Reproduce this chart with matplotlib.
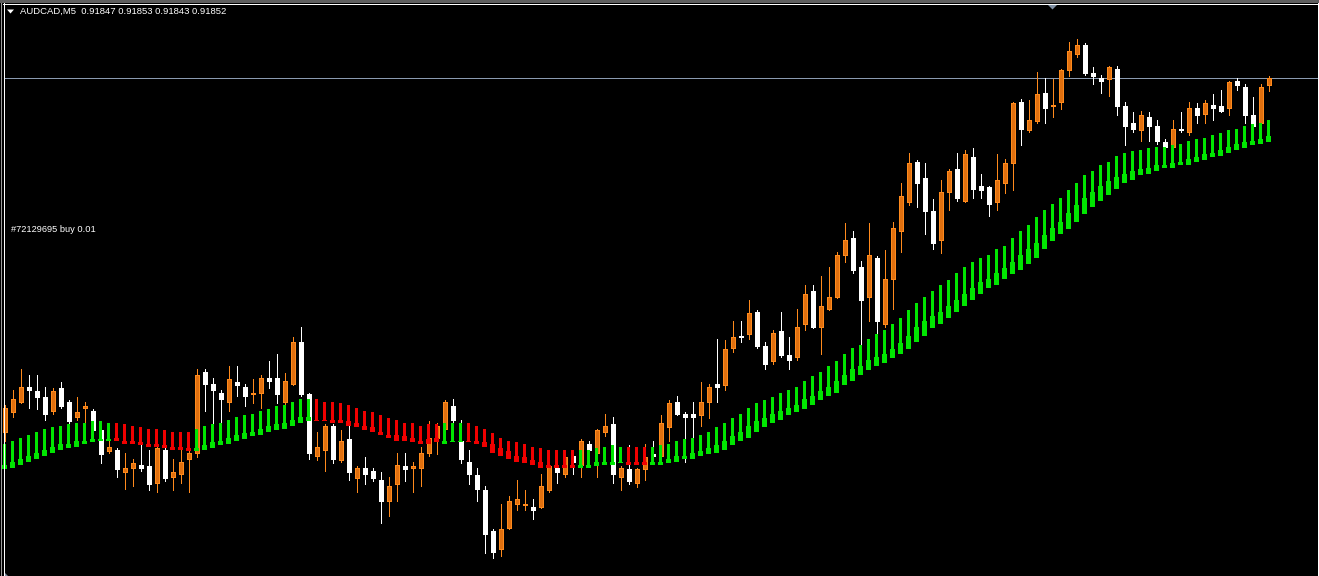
import numpy as np
import matplotlib
matplotlib.use("Agg")
import matplotlib.pyplot as plt
from matplotlib.patches import Polygon, Rectangle

# ---------------- data (AUDCAD, M5) ----------------
symbol = "AUDCAD,M5"
order_label = "#72129695 buy 0.01"

open_ = [0.91616, 0.91629, 0.91636, 0.91646, 0.91643, 0.91639, 0.91630, 0.91645, 0.91636, 0.91626,
         0.91632, 0.91630, 0.91617, 0.91603, 0.91604, 0.91589, 0.91592, 0.91594, 0.91593, 0.91582,
         0.91604, 0.91586, 0.91588, 0.91598, 0.91602, 0.91656, 0.91648, 0.91642, 0.91636, 0.91649,
         0.91646, 0.91641, 0.91642, 0.91652, 0.91652, 0.91636, 0.91648, 0.91676, 0.91641, 0.91600,
         0.91604, 0.91620, 0.91597, 0.91611, 0.91585, 0.91592, 0.91590, 0.91584, 0.91570, 0.91581,
         0.91593, 0.91592, 0.91592, 0.91602, 0.91612, 0.91618, 0.91633, 0.91610, 0.91596, 0.91587,
         0.91577, 0.91550, 0.91538, 0.91552, 0.91568, 0.91567, 0.91566, 0.91566, 0.91577, 0.91592,
         0.91588, 0.91600, 0.91594, 0.91608, 0.91602, 0.91616, 0.91621, 0.91586, 0.91591, 0.91582,
         0.91591, 0.91601, 0.91600, 0.91619, 0.91636, 0.91628, 0.91628, 0.91627, 0.91636, 0.91648,
         0.91647, 0.91672, 0.91680, 0.91681, 0.91696, 0.91673, 0.91663, 0.91683, 0.91667, 0.91666,
         0.91688, 0.91710, 0.91686, 0.91698, 0.91706, 0.91734, 0.91745, 0.91726, 0.91706, 0.91732,
         0.91688, 0.91718, 0.91750, 0.91769, 0.91796, 0.91785, 0.91763, 0.91744, 0.91776, 0.91791,
         0.91770, 0.91799, 0.91780, 0.91779, 0.91769, 0.91782, 0.91795, 0.91836, 0.91817, 0.91823,
         0.91842, 0.91833, 0.91836, 0.91857, 0.91868, 0.91874, 0.91855, 0.91852, 0.91851, 0.91858,
         0.91833, 0.91822, 0.91817, 0.91826, 0.91820, 0.91809, 0.91806, 0.91818, 0.91816, 0.91832,
         0.91828, 0.91834, 0.91833, 0.91832, 0.91850, 0.91846, 0.91827, 0.91822, 0.91847]
high = [0.91634, 0.91644, 0.91658, 0.91654, 0.91654, 0.91646, 0.91645, 0.91649, 0.91637, 0.91639,
        0.91636, 0.91631, 0.91618, 0.91610, 0.91605, 0.91602, 0.91598, 0.91608, 0.91604, 0.91606,
        0.91605, 0.91598, 0.91605, 0.91605, 0.91658, 0.91658, 0.91652, 0.91644, 0.91660, 0.91660,
        0.91648, 0.91651, 0.91654, 0.91663, 0.91668, 0.91655, 0.91679, 0.91686, 0.91642, 0.91616,
        0.91621, 0.91621, 0.91617, 0.91620, 0.91593, 0.91599, 0.91592, 0.91589, 0.91586, 0.91602,
        0.91602, 0.91596, 0.91606, 0.91623, 0.91622, 0.91637, 0.91638, 0.91624, 0.91604, 0.91592,
        0.91580, 0.91551, 0.91568, 0.91573, 0.91584, 0.91577, 0.91571, 0.91588, 0.91594, 0.91596,
        0.91600, 0.91601, 0.91611, 0.91610, 0.91618, 0.91628, 0.91626, 0.91593, 0.91607, 0.91592,
        0.91608, 0.91610, 0.91627, 0.91637, 0.91640, 0.91629, 0.91636, 0.91649, 0.91648, 0.91678,
        0.91677, 0.91690, 0.91690, 0.91704, 0.91697, 0.91676, 0.91684, 0.91696, 0.91679, 0.91698,
        0.91714, 0.91714, 0.91720, 0.91726, 0.91736, 0.91755, 0.91750, 0.91730, 0.91755, 0.91733,
        0.91737, 0.91756, 0.91782, 0.91802, 0.91797, 0.91795, 0.91771, 0.91784, 0.91791, 0.91802,
        0.91804, 0.91805, 0.91788, 0.91780, 0.91801, 0.91798, 0.91836, 0.91838, 0.91837, 0.91856,
        0.91852, 0.91851, 0.91858, 0.91876, 0.91878, 0.91875, 0.91859, 0.91854, 0.91860, 0.91860,
        0.91836, 0.91829, 0.91830, 0.91829, 0.91824, 0.91811, 0.91824, 0.91829, 0.91836, 0.91835,
        0.91837, 0.91841, 0.91844, 0.91850, 0.91852, 0.91848, 0.91839, 0.91848, 0.91853]
low = [0.91610, 0.91626, 0.91635, 0.91632, 0.91631, 0.91624, 0.91628, 0.91632, 0.91621, 0.91624,
       0.91622, 0.91616, 0.91595, 0.91602, 0.91586, 0.91578, 0.91580, 0.91590, 0.91577, 0.91576,
       0.91583, 0.91577, 0.91582, 0.91576, 0.91599, 0.91630, 0.91622, 0.91622, 0.91630, 0.91640,
       0.91633, 0.91635, 0.91632, 0.91645, 0.91635, 0.91634, 0.91647, 0.91640, 0.91598, 0.91597,
       0.91590, 0.91595, 0.91596, 0.91584, 0.91576, 0.91581, 0.91583, 0.91555, 0.91560, 0.91570,
       0.91583, 0.91576, 0.91580, 0.91600, 0.91601, 0.91616, 0.91622, 0.91595, 0.91581, 0.91570,
       0.91535, 0.91532, 0.91533, 0.91551, 0.91564, 0.91564, 0.91558, 0.91565, 0.91576, 0.91582,
       0.91586, 0.91588, 0.91586, 0.91603, 0.91586, 0.91613, 0.91582, 0.91577, 0.91581, 0.91579,
       0.91584, 0.91599, 0.91599, 0.91610, 0.91627, 0.91596, 0.91612, 0.91620, 0.91625, 0.91636,
       0.91644, 0.91669, 0.91676, 0.91678, 0.91672, 0.91658, 0.91661, 0.91666, 0.91658, 0.91664,
       0.91684, 0.91685, 0.91668, 0.91697, 0.91705, 0.91729, 0.91722, 0.91674, 0.91690, 0.91682,
       0.91686, 0.91698, 0.91736, 0.91767, 0.91766, 0.91748, 0.91738, 0.91735, 0.91764, 0.91770,
       0.91769, 0.91772, 0.91772, 0.91760, 0.91764, 0.91775, 0.91777, 0.91807, 0.91816, 0.91822,
       0.91822, 0.91826, 0.91831, 0.91853, 0.91866, 0.91854, 0.91848, 0.91842, 0.91840, 0.91827,
       0.91807, 0.91816, 0.91810, 0.91810, 0.91808, 0.91805, 0.91805, 0.91816, 0.91814, 0.91822,
       0.91822, 0.91824, 0.91829, 0.91827, 0.91844, 0.91822, 0.91819, 0.91821, 0.91843]
close = [0.91632, 0.91638, 0.91646, 0.91644, 0.91639, 0.91628, 0.91643, 0.91633, 0.91623, 0.91629,
         0.91633, 0.91617, 0.91601, 0.91606, 0.91591, 0.91592, 0.91595, 0.91592, 0.91581, 0.91605,
         0.91585, 0.91589, 0.91596, 0.91602, 0.91654, 0.91648, 0.91644, 0.91638, 0.91651, 0.91647,
         0.91640, 0.91642, 0.91652, 0.91650, 0.91641, 0.91650, 0.91676, 0.91641, 0.91602, 0.91606,
         0.91620, 0.91598, 0.91610, 0.91589, 0.91592, 0.91588, 0.91585, 0.91570, 0.91580, 0.91594,
         0.91591, 0.91593, 0.91602, 0.91612, 0.91620, 0.91636, 0.91624, 0.91598, 0.91588, 0.91578,
         0.91548, 0.91536, 0.91551, 0.91570, 0.91571, 0.91568, 0.91564, 0.91580, 0.91593, 0.91589,
         0.91599, 0.91596, 0.91610, 0.91604, 0.91617, 0.91620, 0.91588, 0.91592, 0.91583, 0.91591,
         0.91599, 0.91600, 0.91622, 0.91635, 0.91628, 0.91626, 0.91626, 0.91636, 0.91646, 0.91646,
         0.91671, 0.91679, 0.91679, 0.91695, 0.91673, 0.91661, 0.91682, 0.91667, 0.91664, 0.91686,
         0.91708, 0.91686, 0.91700, 0.91706, 0.91734, 0.91744, 0.91724, 0.91704, 0.91734, 0.91690,
         0.91718, 0.91752, 0.91773, 0.91795, 0.91782, 0.91763, 0.91742, 0.91776, 0.91790, 0.91772,
         0.91801, 0.91778, 0.91777, 0.91768, 0.91784, 0.91795, 0.91835, 0.91818, 0.91824, 0.91841,
         0.91832, 0.91834, 0.91857, 0.91870, 0.91874, 0.91855, 0.91853, 0.91850, 0.91859, 0.91833,
         0.91820, 0.91818, 0.91827, 0.91820, 0.91810, 0.91806, 0.91818, 0.91817, 0.91832, 0.91827,
         0.91835, 0.91832, 0.91830, 0.91849, 0.91847, 0.91827, 0.91820, 0.91846, 0.91852]

# trend-indicator histogram: top of thin bar, top of block, bottom of block
ind_top = [0.91608, 0.91610, 0.91612, 0.91614, 0.91616, 0.91618, 0.91619, 0.91620, 0.91621, 0.91622,
           0.91622, 0.91623, 0.91623, 0.91622, 0.91622, 0.91621, 0.91620, 0.91619, 0.91618, 0.91618,
           0.91617, 0.91616, 0.91616, 0.91616, 0.91618, 0.91620, 0.91621, 0.91622, 0.91624, 0.91626,
           0.91627, 0.91628, 0.91630, 0.91631, 0.91633, 0.91634, 0.91636, 0.91638, 0.91638, 0.91638,
           0.91636, 0.91636, 0.91635, 0.91634, 0.91632, 0.91630, 0.91629, 0.91627, 0.91625, 0.91624,
           0.91622, 0.91622, 0.91620, 0.91621, 0.91621, 0.91622, 0.91622, 0.91622, 0.91622, 0.91620,
           0.91618, 0.91615, 0.91612, 0.91610, 0.91609, 0.91608, 0.91606, 0.91605, 0.91604, 0.91604,
           0.91604, 0.91604, 0.91604, 0.91604, 0.91605, 0.91606, 0.91607, 0.91606, 0.91606, 0.91606,
           0.91606, 0.91606, 0.91607, 0.91608, 0.91610, 0.91611, 0.91612, 0.91614, 0.91616, 0.91619,
           0.91622, 0.91625, 0.91628, 0.91632, 0.91635, 0.91637, 0.91639, 0.91642, 0.91644, 0.91646,
           0.91650, 0.91653, 0.91656, 0.91660, 0.91663, 0.91668, 0.91672, 0.91674, 0.91678, 0.91681,
           0.91684, 0.91688, 0.91692, 0.91697, 0.91702, 0.91706, 0.91710, 0.91714, 0.91717, 0.91722,
           0.91726, 0.91729, 0.91732, 0.91734, 0.91738, 0.91740, 0.91745, 0.91750, 0.91754, 0.91759,
           0.91764, 0.91768, 0.91772, 0.91777, 0.91782, 0.91787, 0.91790, 0.91794, 0.91796, 0.91800,
           0.91802, 0.91803, 0.91804, 0.91805, 0.91806, 0.91806, 0.91807, 0.91808, 0.91810, 0.91811,
           0.91812, 0.91814, 0.91815, 0.91817, 0.91818, 0.91820, 0.91821, 0.91822, 0.91824]
ind_mid = [0.91594, 0.91596, 0.91598, 0.91600, 0.91602, 0.91604, 0.91606, 0.91608, 0.91608, 0.91610,
           0.91610, 0.91611, 0.91611, 0.91611, 0.91612, 0.91610, 0.91610, 0.91609, 0.91608, 0.91608,
           0.91607, 0.91606, 0.91606, 0.91605, 0.91605, 0.91607, 0.91609, 0.91610, 0.91612, 0.91614,
           0.91615, 0.91616, 0.91618, 0.91620, 0.91621, 0.91622, 0.91624, 0.91626, 0.91626, 0.91624,
           0.91624, 0.91624, 0.91624, 0.91623, 0.91622, 0.91620, 0.91619, 0.91616, 0.91614, 0.91614,
           0.91613, 0.91612, 0.91610, 0.91611, 0.91612, 0.91610, 0.91610, 0.91610, 0.91610, 0.91610,
           0.91609, 0.91608, 0.91605, 0.91603, 0.91600, 0.91599, 0.91597, 0.91596, 0.91594, 0.91594,
           0.91594, 0.91594, 0.91594, 0.91594, 0.91596, 0.91596, 0.91596, 0.91596, 0.91596, 0.91596,
           0.91596, 0.91596, 0.91596, 0.91598, 0.91600, 0.91600, 0.91602, 0.91603, 0.91605, 0.91607,
           0.91610, 0.91613, 0.91616, 0.91620, 0.91623, 0.91625, 0.91628, 0.91630, 0.91632, 0.91634,
           0.91638, 0.91640, 0.91643, 0.91646, 0.91650, 0.91654, 0.91658, 0.91660, 0.91664, 0.91666,
           0.91668, 0.91671, 0.91675, 0.91680, 0.91686, 0.91690, 0.91693, 0.91696, 0.91700, 0.91704,
           0.91708, 0.91712, 0.91716, 0.91718, 0.91722, 0.91725, 0.91729, 0.91734, 0.91738, 0.91742,
           0.91747, 0.91752, 0.91756, 0.91762, 0.91767, 0.91772, 0.91776, 0.91780, 0.91783, 0.91786,
           0.91788, 0.91790, 0.91791, 0.91792, 0.91794, 0.91794, 0.91795, 0.91796, 0.91798, 0.91799,
           0.91801, 0.91802, 0.91804, 0.91806, 0.91808, 0.91809, 0.91810, 0.91811, 0.91813]
ind_bot = [0.91591, 0.91592, 0.91594, 0.91596, 0.91598, 0.91600, 0.91602, 0.91604, 0.91605, 0.91606,
           0.91608, 0.91609, 0.91610, 0.91610, 0.91610, 0.91608, 0.91608, 0.91607, 0.91606, 0.91606,
           0.91605, 0.91604, 0.91604, 0.91603, 0.91603, 0.91604, 0.91605, 0.91607, 0.91608, 0.91610,
           0.91611, 0.91613, 0.91614, 0.91616, 0.91617, 0.91618, 0.91620, 0.91622, 0.91623, 0.91623,
           0.91623, 0.91622, 0.91622, 0.91620, 0.91619, 0.91617, 0.91616, 0.91614, 0.91612, 0.91610,
           0.91610, 0.91609, 0.91608, 0.91608, 0.91609, 0.91608, 0.91609, 0.91609, 0.91609, 0.91608,
           0.91606, 0.91602, 0.91600, 0.91598, 0.91596, 0.91595, 0.91594, 0.91592, 0.91592, 0.91592,
           0.91592, 0.91592, 0.91592, 0.91592, 0.91593, 0.91594, 0.91594, 0.91595, 0.91594, 0.91594,
           0.91594, 0.91594, 0.91594, 0.91595, 0.91596, 0.91598, 0.91598, 0.91600, 0.91601, 0.91602,
           0.91604, 0.91607, 0.91610, 0.91612, 0.91616, 0.91619, 0.91622, 0.91624, 0.91627, 0.91629,
           0.91631, 0.91634, 0.91637, 0.91640, 0.91642, 0.91647, 0.91650, 0.91654, 0.91657, 0.91660,
           0.91662, 0.91665, 0.91668, 0.91671, 0.91676, 0.91680, 0.91685, 0.91688, 0.91692, 0.91696,
           0.91700, 0.91704, 0.91708, 0.91712, 0.91714, 0.91718, 0.91721, 0.91724, 0.91728, 0.91732,
           0.91738, 0.91743, 0.91748, 0.91751, 0.91756, 0.91761, 0.91766, 0.91770, 0.91774, 0.91778,
           0.91782, 0.91784, 0.91787, 0.91788, 0.91790, 0.91792, 0.91792, 0.91794, 0.91794, 0.91796,
           0.91797, 0.91799, 0.91800, 0.91802, 0.91804, 0.91805, 0.91807, 0.91808, 0.91809]
# indicator colour runs (consecutive bars): up = green, down = red
trend_runs = [("up", 14), ("down", 10), ("up", 15), ("down", 16), ("up", 3),
              ("down", 14), ("up", 6), ("down", 3), ("up", 78)]

# ---------------- style ----------------
BULL = "#E0700F"
BULL_EDGE = "#FF8A1C"
BEAR = "#FFFFFF"
UP_COL = "#00E600"
DOWN_COL = "#F00000"
BID_COL = "#8A9AB0"

W, H, DPI = 1319, 576, 100
PX_PER_POINT = 1.5          # vertical pixels per 0.00001
BID_ROW = 77.5              # pixel row of the bid line
X0_PX, STEP_PX = 4.5, 8.0   # first bar centre and bar spacing in pixels

n = len(close)
x = np.arange(n)
o = np.array(open_); h = np.array(high); l = np.array(low); c = np.array(close)
it = np.array(ind_top); im = np.array(ind_mid); ib = np.array(ind_bot)
trend = []
for name, cnt in trend_runs:
    trend += [name] * cnt

pt = 1e-5
y_top = close[-1] + BID_ROW / PX_PER_POINT * pt
y_bot = y_top - H / PX_PER_POINT * pt
px = 72.0 / DPI  # one pixel in points

fig = plt.figure(figsize=(W / DPI, H / DPI), dpi=DPI, facecolor="black")
ax = fig.add_axes([0, 0, 1, 1])
ax.set_facecolor("black")
ax.set_xlim(-X0_PX / STEP_PX, (W - X0_PX) / STEP_PX)
ax.set_ylim(y_bot, y_top)
ax.axis("off")

bull = c >= o
min_body = 0.7 * pt
body_lo = np.minimum(o, c)
body_h = np.maximum(np.abs(c - o), min_body)

# wicks
ax.vlines(x[bull], l[bull], h[bull], colors=BULL_EDGE, linewidth=px, antialiased=False, zorder=2)
ax.vlines(x[~bull], l[~bull], h[~bull], colors=BEAR, linewidth=px, antialiased=False, zorder=2)
# bodies
ax.bar(x[bull], body_h[bull], bottom=body_lo[bull], width=4 / STEP_PX, color=BULL,
       edgecolor=BULL_EDGE, linewidth=px, antialiased=False, zorder=3)
ax.bar(x[~bull], body_h[~bull], bottom=body_lo[~bull], width=4 / STEP_PX, color=BEAR,
       edgecolor=BEAR, linewidth=px, antialiased=False, zorder=3)

# indicator histogram (drawn above candles)
cols = np.array([UP_COL if t == "up" else DOWN_COL for t in trend])
ax.bar(x, it - im, bottom=im, width=3 / STEP_PX, color=cols, linewidth=0,
       antialiased=False, zorder=4)
ax.bar(x, np.maximum(im - ib, 0.7 * pt), bottom=ib, width=5 / STEP_PX, color=cols,
       linewidth=0, antialiased=False, zorder=4)

# bid line (between the chart frame lines)
ax.axhline(close[-1], xmin=3.5 / W, xmax=(W - 1.5) / W, color=BID_COL, linewidth=px,
           antialiased=False, zorder=1)

# ---------------- chart frame / overlay (pixel coordinates) ----------------
ov = fig.add_axes([0, 0, 1, 1], zorder=5)
ov.set_xlim(0, W)
ov.set_ylim(H, 0)
ov.axis("off")
ov.patch.set_alpha(0)
ov.add_patch(Rectangle((0, 0), W, 3, color="#5E5E5E", linewidth=0))
ov.plot([3, W - 1.5], [3.5, 3.5], color="white", linewidth=px, antialiased=False)
ov.plot([3.5, 3.5], [3, H], color="white", linewidth=px, antialiased=False)
ov.plot([0.5, 0.5], [3, H], color="#9A9A9A", linewidth=px, antialiased=False)
ov.plot([W - 1.5, W - 1.5], [3, H], color="white", linewidth=px, antialiased=False)
for ty in np.arange(36.5, H, 38.15):
    ov.plot([W - 1.5, W], [ty, ty], color="white", linewidth=px, antialiased=False)
ov.add_patch(Polygon([(1047, 4), (1058, 4), (1052.5, 9.5)], closed=True,
                     color="#7F8FA3", linewidth=0))
ov.add_patch(Polygon([(4, 572), (4, 576), (8, 576)], closed=True,
                     color="#7F8FA3", linewidth=0))
ov.add_patch(Polygon([(7, 9.5), (14, 9.5), (10.5, 13.5)], closed=True,
                     color="white", linewidth=0))

header = f"{symbol}  {open_[-1]:.5f} {high[-1]:.5f} {low[-1]:.5f} {close[-1]:.5f}"
ov.text(20, 11.5, header, color="white", fontsize=6.8, family="Liberation Sans",
        va="center", ha="left")
ov.text(11, 229.5, order_label, color="white", fontsize=6.7, family="Liberation Sans",
        va="center", ha="left")

fig.savefig("out.png", dpi=DPI, facecolor="black")
